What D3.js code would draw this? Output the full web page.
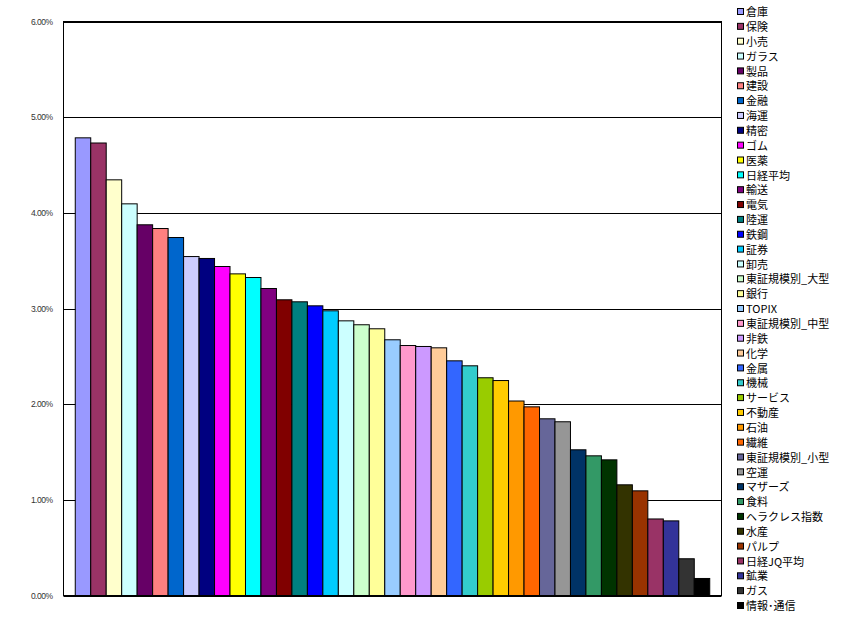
<!DOCTYPE html>
<html><head><meta charset="utf-8">
<script src="https://cdn.jsdelivr.net/npm/d3@7/dist/d3.min.js"></script>
<style>body{margin:0;background:#fff;}</style>
</head><body>
<svg id="c" width="851" height="625"></svg>
<script>
const categories = ["倉庫","保険","小売","ガラス","製品","建設","金融","海運","精密","ゴム","医薬","日経平均","輸送","電気","陸運","鉄鋼","証券","卸売","東証規模別_大型","銀行","TOPIX","東証規模別_中型","非鉄","化学","金属","機械","サービス","不動産","石油","繊維","東証規模別_小型","空運","マザーズ","食料","ヘラクレス指数","水産","パルプ","日経JQ平均","鉱業","ガス","情報･通信"];
const values = [4.784,4.73,4.345,4.094,3.875,3.836,3.742,3.543,3.523,3.439,3.362,3.324,3.209,3.091,3.07,3.028,2.976,2.871,2.83,2.788,2.673,2.613,2.603,2.589,2.453,2.401,2.276,2.247,2.033,1.972,1.847,1.816,1.523,1.46,1.418,1.157,1.094,0.80,0.78,0.384,0.178];
const colors = ["#9999FF","#993366","#FFFFCC","#CCFFFF","#660066","#FF8080","#0066CC","#CCCCFF","#000080","#FF00FF","#FFFF00","#00FFFF","#800080","#800000","#008080","#0000FF","#00CCFF","#CCFFFF","#CCFFCC","#FFFF99","#99CCFF","#FF99CC","#CC99FF","#FFCC99","#3366FF","#33CCCC","#99CC00","#FFCC00","#FF9900","#FF6600","#666699","#969696","#003366","#339966","#003300","#333300","#993300","#993366","#333399","#333333","#000000"];
const yTicks = [0,1,2,3,4,5,6];

const svg = d3.select("#c");
const L=63.5, R=721.5, T=21.5, B=595.5;
const x = d3.scaleBand().domain(categories).range([L,R]).paddingInner(0).paddingOuter(0.76);
const y = d3.scaleLinear().domain([0,6]).range([B,T]);

// gridlines
svg.append("g").selectAll("line").data(yTicks).join("line")
  .attr("x1",L).attr("x2",R).attr("y1",d=>Math.round(y(d))+0.5).attr("y2",d=>Math.round(y(d))+0.5)
  .attr("stroke","#000").attr("stroke-width",1);

// bars
svg.append("g").selectAll("rect").data(values).join("rect")
  .attr("x",(d,i)=>x(categories[i]))
  .attr("width",x.bandwidth())
  .attr("y",d=>y(d))
  .attr("height",d=>B-y(d))
  .attr("fill",(d,i)=>colors[i])
  .attr("stroke","#000").attr("stroke-width",1);

// frame
svg.append("rect").attr("x",L).attr("y",T).attr("width",R-L).attr("height",B-T)
  .attr("fill","none").attr("stroke","#000").attr("stroke-width",1);

// y axis labels
const yAxis = d3.axisLeft(y).tickValues(yTicks).tickSize(0).tickPadding(11)
  .tickFormat(d=>d.toFixed(2)+"%");
const ga = svg.append("g").attr("transform",`translate(${L},0)`).call(yAxis);
ga.select(".domain").remove();
ga.selectAll("text").attr("font-family","Arial, Liberation Sans, sans-serif").attr("font-size",8.5)
  .attr("fill","#333").attr("letter-spacing","-0.5");

// legend
const lg = svg.append("g");
const rowH = 14.85, ly0 = 12;
const items = lg.selectAll("g").data(categories).join("g")
  .attr("transform",(d,i)=>`translate(737,${ly0+i*rowH})`);
items.append("rect").attr("x",0.5).attr("y",-3.5).attr("width",6).attr("height",6)
  .attr("fill",(d,i)=>colors[i]).attr("stroke","#000").attr("stroke-width",1);
items.append("text").attr("x",9).attr("y",0).attr("dy","0.38em")
  .attr("font-family","'Noto Sans CJK JP', sans-serif").attr("font-size",11).attr("fill","#000")
  .text(d=>d);
</script>
</body></html>
